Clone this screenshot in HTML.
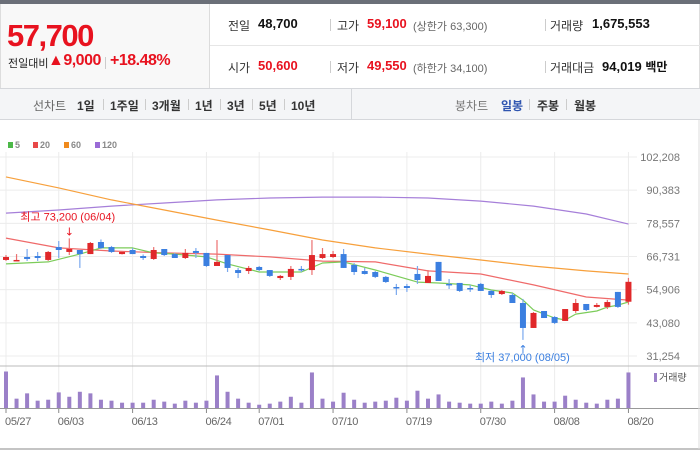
<!DOCTYPE html>
<html><head><meta charset="utf-8">
<style>
*{margin:0;padding:0;box-sizing:border-box}
body{width:700px;height:450px;overflow:hidden;background:#fff;font-family:"Liberation Sans","Noto Sans CJK KR",sans-serif;position:relative;color:#222}
.abs{position:absolute;white-space:nowrap}
#topbar{left:0;top:0;width:700px;height:4px;background:#6b6f78}
#pricebox{left:0;top:4px;width:210px;height:84px;background:#f8f8f8;border-right:1px solid #dcdcdc;border-left:1px solid #ddd}
#info{left:210px;top:4px;width:490px;height:84px;border-right:1px solid #ddd}
.lbl{font-size:12px;color:#333}
.val{font-size:13px;font-weight:bold;color:#111}
.red{color:#e8121f}
.sub{font-size:11px;color:#666}
.sep{width:1px;height:12px;background:#ccc}
#toolbar{left:0;top:88px;width:700px;height:32px;background:#f4f5f7;border-top:1px solid #d5d7db;border-bottom:1px solid #d5d7db}
.tb{font-size:12px;font-weight:bold;color:#333;top:8px}
.tbs{width:1px;height:11px;background:#ccc;top:10px}
</style></head><body>
<div class="abs" id="topbar"></div>
<div class="abs" id="pricebox">
  <div class="abs red" style="left:6px;top:14px;font-size:31px;font-weight:bold;letter-spacing:-1.5px">57,700</div>
  <div class="abs" style="left:7px;top:51px;font-size:11px;color:#222">전일대비</div>
  <div class="abs red" style="left:47px;top:48px;font-size:16px;font-weight:bold;letter-spacing:-0.5px">▲9,000</div>
  <div class="abs sep" style="left:104px;top:53px"></div>
  <div class="abs red" style="left:109px;top:48px;font-size:16px;font-weight:bold;letter-spacing:-0.5px">+18.48%</div>
</div>
<div class="abs" id="info">
  <div class="abs" style="left:0;top:41px;width:490px;height:1px;background:#e6e6e6"></div>
  <div class="abs lbl" style="left:18px;top:13px">전일</div>
  <div class="abs val" style="left:48px;top:12px">48,700</div>
  <div class="abs sep" style="left:120px;top:15px"></div>
  <div class="abs lbl" style="left:127px;top:13px">고가</div>
  <div class="abs val red" style="left:157px;top:12px">59,100</div>
  <div class="abs sub" style="left:203px;top:14px">(상한가 63,300)</div>
  <div class="abs sep" style="left:335px;top:15px"></div>
  <div class="abs lbl" style="left:340px;top:13px">거래량</div>
  <div class="abs val" style="left:382px;top:12px">1,675,553</div>
  <div class="abs lbl" style="left:18px;top:55px">시가</div>
  <div class="abs val red" style="left:48px;top:54px">50,600</div>
  <div class="abs sep" style="left:120px;top:57px"></div>
  <div class="abs lbl" style="left:127px;top:55px">저가</div>
  <div class="abs val red" style="left:157px;top:54px">49,550</div>
  <div class="abs sub" style="left:203px;top:56px">(하한가 34,100)</div>
  <div class="abs sep" style="left:335px;top:57px"></div>
  <div class="abs lbl" style="left:340px;top:55px">거래대금</div>
  <div class="abs val" style="left:392px;top:54px">94,019 <span style="font-size:12px">백만</span></div>
</div>
<div class="abs" id="toolbar">
  <div class="abs tb" style="left:33px;color:#666;font-weight:normal">선차트</div>
  <div class="abs tb" style="left:77px">1일</div>
  <div class="abs tbs" style="left:103px"></div>
  <div class="abs tb" style="left:110px">1주일</div>
  <div class="abs tbs" style="left:145px"></div>
  <div class="abs tb" style="left:152px">3개월</div>
  <div class="abs tbs" style="left:188px"></div>
  <div class="abs tb" style="left:195px">1년</div>
  <div class="abs tbs" style="left:220px"></div>
  <div class="abs tb" style="left:227px">3년</div>
  <div class="abs tbs" style="left:252px"></div>
  <div class="abs tb" style="left:259px">5년</div>
  <div class="abs tbs" style="left:284px"></div>
  <div class="abs tb" style="left:291px">10년</div>
  <div class="abs" style="left:351px;top:0;width:1px;height:30px;background:#d5d7db"></div>
  <div class="abs tb" style="left:455px;color:#777;font-weight:normal">봉차트</div>
  <div class="abs tb" style="left:501px;color:#2f55b0">일봉</div>
  <div class="abs tbs" style="left:529px"></div>
  <div class="abs tb" style="left:537px">주봉</div>
  <div class="abs tbs" style="left:566px"></div>
  <div class="abs tb" style="left:574px">월봉</div>
</div>
<svg id="chart" class="abs" style="left:0;top:0" width="700" height="450"></svg>
<script>
const dates = ["05/27","06/03","06/13","06/24","07/01","07/10","07/19","07/30","08/08","08/20"];
const dateIdx = [0,5,12,19,24,31,38,45,52,59];
const priceTicks = [102208,90383,78557,66731,54906,43080,31254];
const opens  = [65500,65300,66550,66900,65500,70100,68350,69050,67600,71900,70100,67600,69050,66900,65850,69400,67600,66200,68700,68000,63350,67250,61900,61550,63000,61900,59050,59450,62300,61900,66200,66550,67600,63700,61550,61200,59450,55850,56200,60500,57300,64800,56950,57300,55500,56950,54450,53350,53000,50150,41250,47300,45150,43750,47300,49800,48750,48750,54100,50600];
const highs  = [67250,67600,69400,68350,68700,72250,73200,69050,71900,72800,70500,68700,69750,67450,70100,69400,68000,69400,69750,68000,72600,67250,62650,63350,63350,61900,60150,63350,63350,72600,69750,68700,69400,64400,62650,61550,59800,56950,56950,63350,61900,64800,58700,57300,56600,57300,54800,54800,53700,51600,46950,47300,45500,48000,51600,49800,50150,51250,54100,59100];
const lows   = [65150,65150,65150,65150,65150,66200,67250,62650,67600,69400,68000,67450,67600,65500,65500,66900,66200,65850,66200,63000,63350,61200,59050,60500,61550,59450,58350,58350,61200,60150,65850,66200,62650,60150,60300,59050,57300,53000,54100,56950,57300,58000,55150,54100,54100,54450,51950,53000,50150,37000,41250,44800,42650,43750,46600,47300,48550,48000,48400,49550];
const closes = [66550,65500,65850,66200,68350,69050,69400,67600,71550,69750,68350,68350,67600,66200,69050,67250,66200,68000,68000,63350,64800,62650,60850,62650,61900,59800,59800,62300,61900,67250,67600,67600,62650,61200,60500,59450,57650,55500,55500,58350,59800,58000,56600,54450,55150,54450,53000,54450,50150,41250,46600,44800,43050,48000,50150,47650,49450,50500,48750,57700];
const volumes = [1720,440,690,345,390,735,530,765,690,390,345,250,250,250,390,300,205,345,250,345,1535,765,440,250,155,205,300,530,250,1675,440,300,720,390,250,300,345,485,345,815,440,640,300,250,205,205,300,205,345,1440,640,300,300,580,390,250,205,390,440,1675];
const ma5Idx = [0,4,7,9,12,14,16,19,21,24,28,30,32,35,39,41,44,46,48,49,50,52,53,54,56,57,58,59];
const ma5 = [64100,64800,67600,69800,69800,68000,67600,66600,64100,61200,61200,64400,64800,61900,57600,57300,56600,54800,53700,51200,47700,44800,44100,46200,47300,48700,49400,50500];
const maIdx = [0,5,10,15,20,25,30,35,40,45,50,55,59];
const ma20 = [73300,69800,68700,68000,67600,66600,65100,64800,61600,60500,56600,52300,51200];
const ma60 = [95100,91200,86900,83300,79700,76200,72600,69800,67600,65500,63300,61600,60500];
const ma120 = [82200,83300,84700,85800,86900,87600,87900,87900,87600,86500,84700,81900,78300];

const svg = document.getElementById('chart');
const NS = 'http://www.w3.org/2000/svg';
const pMin = 31254, pMax = 102208, yTop = 157, yBot = 356;
const yP = p => yBot - (p - pMin) / (pMax - pMin) * (yBot - yTop);
const xI = i => 6 + i * 10.55;
const vBase = 408, vTop = 371.5;
const vMax = Math.max(...volumes);
const yV = v => vBase - v / vMax * (vBase - vTop);
function mk(tag, attrs){const e=document.createElementNS(NS,tag);for(const k in attrs)e.setAttribute(k,attrs[k]);svg.appendChild(e);return e;}

priceTicks.forEach(t=>{
  const g=mk('line',{x1:0,x2:637,y1:yP(t),y2:yP(t),stroke:'#ececec','stroke-width':1});
  
  
  const tx=mk('text',{x:680,y:yP(t)+4,'text-anchor':'end','font-size':11,fill:'#777','font-family':'Liberation Sans, sans-serif'});
  tx.textContent=t.toLocaleString('en-US');
  
  
});
dateIdx.forEach((di,k)=>{
  const x=xI(di);
  const g=mk('line',{x1:x,x2:x,y1:152,y2:408,stroke:'#ececec','stroke-width':1});
  
  
  const tk=mk('line',{x1:x,x2:x,y1:408,y2:413,stroke:'#888','stroke-width':1});
  
  
  const tx=mk('text',{x:x-1,y:425,'font-size':11,fill:'#666','font-family':'Liberation Sans, sans-serif','letter-spacing':'-0.3'});
  tx.textContent=dates[k];
  
  
});
const sepL=mk('line',{x1:0,x2:700,y1:366,y2:366,stroke:'#bbb','stroke-width':1});


const baseL=mk('line',{x1:0,x2:700,y1:408.5,y2:408.5,stroke:'#999','stroke-width':1});


const botL=mk('line',{x1:0,x2:700,y1:449,y2:449,stroke:'#888','stroke-width':1});


const rL=mk('line',{x1:699,x2:699,y1:120,y2:449,stroke:'#ddd','stroke-width':1});



function maLine(idx, vals, color, name){
  const pts=idx.map((d,k)=>xI(d).toFixed(1)+','+yP(vals[k]).toFixed(1)).join(' ');
  const l=mk('polyline',{points:pts,fill:'none',stroke:color,'stroke-width':1.2,'stroke-linejoin':'round'});
  
  
}
maLine(maIdx,ma120,'#a67fd9','ma120-line');
maLine(maIdx,ma60,'#f7a03c','ma60-line');
maLine(maIdx,ma20,'#ef6a6a','ma20-line');
maLine(ma5Idx,ma5,'#7ccc5a','ma5-line');

opens.forEach((o,i)=>{
  const c=closes[i], up=c>=o, x=xI(i);
  const col=up?'#e0282a':'#3b7fe0', wcol=up?'#ec7070':'#7aa8ee';
  const w=mk('line',{x1:x,x2:x,y1:yP(highs[i]),y2:yP(lows[i]),stroke:wcol,'stroke-width':1.2});
  
  
  const top=yP(Math.max(o,c)), h=Math.max(1.5,yP(Math.min(o,c))-top);
  const b=mk('rect',{x:x-3,y:top,width:6,height:h,fill:col});
  
  
});
volumes.forEach((v,i)=>{
  const r=mk('rect',{x:xI(i)-2,y:yV(v),width:4,height:vBase-yV(v),fill:'#9b80c8'});
  
  
});

const hiI=highs.indexOf(Math.max(...highs)), loI=lows.indexOf(Math.min(...lows));
const hiT=mk('text',{x:xI(hiI)-49,y:yP(highs[hiI])-18,'font-size':11,fill:'#e8121f','font-family':'Liberation Sans, Noto Sans CJK KR, sans-serif'});
hiT.textContent='최고 73,200 (06/04)';


const hiA=mk('text',{x:xI(hiI),y:yP(highs[hiI])-3,'font-size':11,fill:'#e8121f','text-anchor':'middle','font-family':'DejaVu Sans, sans-serif'});
hiA.textContent='↓';


const loA=mk('text',{x:xI(loI),y:yP(lows[loI])+13,'font-size':11,fill:'#3b7fe0','text-anchor':'middle','font-family':'DejaVu Sans, sans-serif'});
loA.textContent='↑';


const loT=mk('text',{x:xI(loI)-48,y:yP(lows[loI])+21,'font-size':11,fill:'#3b7fe0','font-family':'Liberation Sans, Noto Sans CJK KR, sans-serif'});
loT.textContent='최저 37,000 (08/05)';



const leg=[['5','#4cb848',8],['20','#e84848',33],['60','#f08a1c',64],['120','#9a6bd6',95]];
leg.forEach(([t,c,x])=>{
  const s=mk('rect',{x:x,y:142,width:5,height:6,fill:c});
  
  
  const tx=mk('text',{x:x+7,y:148,'font-size':9,fill:'#888','font-family':'Liberation Sans, sans-serif','font-weight':'bold'});
  tx.textContent=t;
  
  
});
const vs=mk('rect',{x:654,y:373,width:3,height:9,fill:'#9b80c8'});


const vt=mk('text',{x:659,y:381,'font-size':10,fill:'#555','font-family':'Liberation Sans, Noto Sans CJK KR, sans-serif'});
vt.textContent='거래량';


</script>
</body></html>
